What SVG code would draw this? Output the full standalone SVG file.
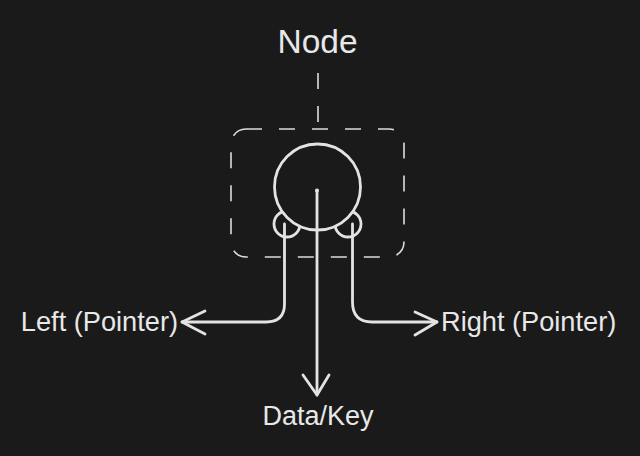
<svg xmlns="http://www.w3.org/2000/svg" width="640" height="456" viewBox="0 0 640 456">
<style>
.ln{fill:none;stroke:#e3e3e3;stroke-width:2.8;stroke-linecap:round;stroke-linejoin:round}
.ds{fill:none;stroke:#dcdcdc;stroke-width:1.6;stroke-dasharray:16 17}
.t{fill:#e8e8e8;font-family:"Liberation Sans",Arial,sans-serif}
</style>
<rect width="640" height="456" fill="#1a1a1a"/>
<g id="node-label">
<text class="t" x="317.5" y="53" font-size="33.5" text-anchor="middle">Node</text>
</g>
<g id="node">
<rect class="ds" x="231" y="129" width="173" height="128" rx="15"/>
<circle class="ln" cx="287" cy="224" r="13"/>
<circle class="ln" cx="348" cy="224" r="13"/>
<circle class="ln" cx="317.5" cy="187" r="43" style="fill:#1a1a1a"/>
<circle cx="317" cy="190.5" r="2" fill="#e3e3e3"/>
</g>
<g id="connectors">
<line class="ds" x1="318" y1="73" x2="318" y2="129"/>
<path class="ln" d="M284.5 224 V304 Q284.5 322 266 322 H182"/>
<path class="ln" d="M205 311 L182 322 L205 334"/>
<path class="ln" d="M352.5 224 V302 Q352.5 322 372 322 H437"/>
<path class="ln" d="M415 312 L437 322 L415 335"/>
<path class="ln" d="M317 190.5 V395"/>
<path class="ln" d="M303 375 L317 395 L329 375"/>
</g>
<g id="left"><text class="t" x="178" y="331" font-size="27.2" text-anchor="end">Left (Pointer)</text></g>
<g id="right"><text class="t" x="441" y="331" font-size="27.2">Right (Pointer)</text></g>
<g id="data"><text class="t" x="318" y="425" font-size="27" text-anchor="middle">Data/Key</text></g>
</svg>
